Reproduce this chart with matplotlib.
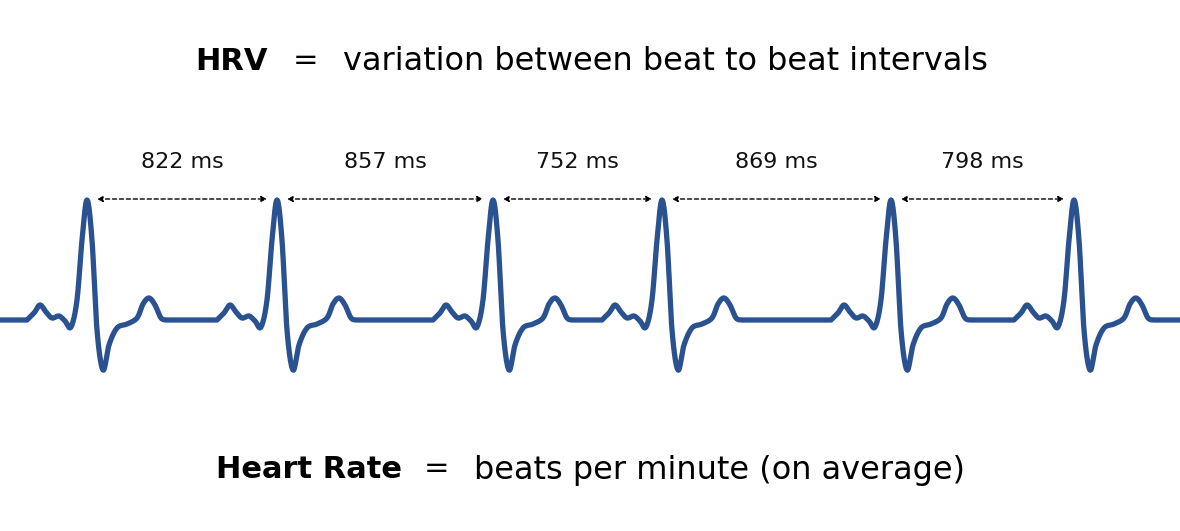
import numpy as np
import matplotlib
matplotlib.use("Agg")
import matplotlib.pyplot as plt

# R-peak positions (pixel units along the strip) and labelled intervals
r_peaks = [87, 277, 493, 662, 891, 1074]
intervals_ms = [822, 857, 752, 869, 798]
# one-beat template: offsets from R peak and heights
tmpl_dx = [-60,-53,-47,-41,-35,-28,-22,-16,-10,-5,0,5,10,16,22,30,40,50,56,62,68,74,80]
tmpl_y  = [320,313,305,312,318,316,321,327,300,240,200,240,330,370,345,328,324,318,304,298,305,318,320]
baseline = 320
color = "#2a5190"

def catmull(xs, ys, n=12):
    xs = np.array(xs, float); ys = np.array(ys, float)
    P = np.column_stack([xs, ys])
    P = np.vstack([P[0], P, P[-1]])
    out = []
    for i in range(1, len(P) - 2):
        p0, p1, p2, p3 = P[i-1], P[i], P[i+1], P[i+2]
        for t in np.linspace(0, 1, n, endpoint=False):
            t2, t3 = t*t, t*t*t
            out.append(0.5*((2*p1) + (-p0+p2)*t + (2*p0-5*p1+4*p2-p3)*t2 + (-p0+3*p1-3*p2+p3)*t3))
    out.append(P[-2])
    return np.array(out)

fig = plt.figure(figsize=(11.8, 5.31), dpi=100)
ax = fig.add_axes([0, 0, 1, 1])
ax.set_xlim(0, 1180); ax.set_ylim(531, 0); ax.axis("off")

segs = [([0, r_peaks[0]-60], [baseline, baseline])]
for k, r in enumerate(r_peaks):
    c = catmull([r+d for d in tmpl_dx], tmpl_y)
    segs.append((c[:, 0], c[:, 1]))
    nxt = r_peaks[k+1]-60 if k+1 < len(r_peaks) else 1180
    segs.append(([r+80, nxt], [baseline, baseline]))
X = np.concatenate([np.asarray(s[0], float) for s in segs])
Y = np.concatenate([np.asarray(s[1], float) for s in segs])
ax.plot(X, Y, color=color, lw=3.8, solid_joinstyle="round", solid_capstyle="butt")

fam = ["DejaVu Sans"]
for k, ms in enumerate(intervals_ms):
    a, b = r_peaks[k] + 10, r_peaks[k+1] - 10
    ax.annotate("", xy=(b, 199), xytext=(a, 199),
                arrowprops=dict(arrowstyle="<|-|>", linestyle=(0, (3, 2)), lw=1,
                                color="black", mutation_scale=8, shrinkA=0, shrinkB=0))
    ax.text((r_peaks[k] + r_peaks[k+1]) / 2, 162, f"{ms} ms", ha="center", va="center",
            fontsize=16, family=fam, color="#111")

ax.text(232, 62, "HRV", ha="center", va="center", fontsize=22, weight="bold", family=fam)
ax.text(306, 60, "=", ha="center", va="center", fontsize=22, family=fam)
ax.text(343, 62, "variation between beat to beat intervals", ha="left", va="center", fontsize=23, family=fam)
ax.text(309, 470, "Heart Rate", ha="center", va="center", fontsize=22, weight="bold", family=fam)
ax.text(437, 468, "=", ha="center", va="center", fontsize=22, family=fam)
ax.text(474, 470, "beats per minute (on average)", ha="left", va="center", fontsize=23, family=fam)

fig.savefig("out.png", dpi=100)
